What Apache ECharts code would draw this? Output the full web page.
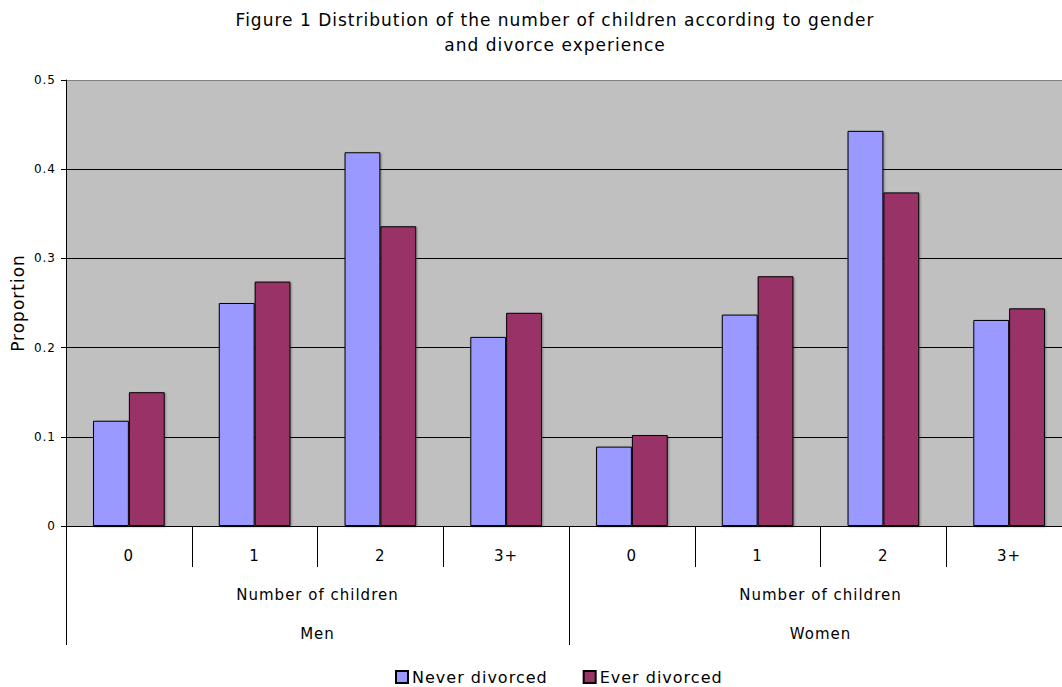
<!DOCTYPE html>
<html>
<head>
<meta charset="utf-8">
<script src="https://cdn.jsdelivr.net/npm/echarts@6/dist/echarts.min.js"></script>
<style>
  html, body { margin: 0; padding: 0; background: #fff; }
  #chart { width: 1062px; height: 687px; overflow: hidden; }
  /* open tracking for all chart text, Verdana-like */
  #chart svg text { letter-spacing: 1px; }
</style>
</head>
<body>
<div id="chart"></div>
<script>
// Number-of-children categories, repeated for each gender group
const childCategories = ['0', '1', '2', '3+', '0', '1', '2', '3+'];
const genderGroups = ['Men', 'Women'];
const subGroupLabels = ['Number of children', 'Number of children'];

// Proportions: Men (0,1,2,3+) followed by Women (0,1,2,3+)
const neverDivorced = [0.118, 0.250, 0.419, 0.212, 0.089, 0.237, 0.443, 0.231];
const everDivorced  = [0.150, 0.274, 0.336, 0.239, 0.102, 0.280, 0.374, 0.244];

const yTicks = { min: 0, max: 0.5, interval: 0.1 };

const FONT = '"DejaVu Sans", Verdana, sans-serif';
const chart = echarts.init(document.getElementById('chart'), null, { renderer: 'svg' });

chart.setOption({
  animation: false,
  backgroundColor: '#ffffff',
  textStyle: { fontFamily: FONT, color: '#000' },
  title: {
    text: 'Figure 1 Distribution of the number of children according to gender\nand divorce experience',
    left: 555,
    textAlign: 'center',
    top: 7,
    padding: 0,
    textStyle: { fontFamily: FONT, fontSize: 17, fontWeight: 'normal', color: '#000', lineHeight: 25 }
  },
  legend: {
    top: 669,
    left: 395,
    padding: 0,
    icon: 'rect',
    itemWidth: 12,
    itemHeight: 12,
    itemGap: 49,
    textStyle: { fontFamily: FONT, fontSize: 16, color: '#000', padding: [0, 0, 0, -1] },
    data: ['Never divorced', 'Ever divorced']
  },
  // plot area runs slightly past the right edge of the canvas
  grid: {
    left: 66, width: 1006, top: 80, bottom: 161,
    outerBoundsMode: 'none',
    containLabel: false,
    show: true,
    backgroundColor: '#c0c0c0',
    borderWidth: 0
  },
  xAxis: [
    {
      type: 'category',
      data: childCategories,
      position: 'bottom',
      axisLine: { show: true, lineStyle: { color: '#000', width: 1 } },
      axisTick: { show: true, length: 41, lineStyle: { color: '#000' } },
      axisLabel: { fontFamily: FONT, fontSize: 15, color: '#000', margin: 22 }
    },
    {
      type: 'category',
      data: genderGroups,
      position: 'bottom',
      axisLine: { show: false },
      axisTick: { show: true, length: 119, lineStyle: { color: '#000' } },
      axisLabel: { fontFamily: FONT, fontSize: 15, color: '#000', margin: 100 }
    },
    {
      type: 'category',
      data: subGroupLabels,
      position: 'bottom',
      axisLine: { show: false },
      axisTick: { show: false },
      axisLabel: { fontFamily: FONT, fontSize: 15, color: '#000', margin: 61 }
    }
  ],
  yAxis: {
    type: 'value',
    min: yTicks.min,
    max: yTicks.max,
    interval: yTicks.interval,
    name: 'Proportion',
    nameLocation: 'middle',
    nameRotate: 90,
    nameGap: 39,
    nameTextStyle: { fontFamily: FONT, fontSize: 17, color: '#000' },
    axisLine: { show: true, lineStyle: { color: '#000' } },
    axisTick: { show: true, length: 5, inside: false, lineStyle: { color: '#000' } },
    axisLabel: { fontFamily: FONT, fontSize: 12, color: '#000', margin: 10 },
    splitLine: {
      show: true,
      lineStyle: { color: ['#000', '#000', '#000', '#000', '#000', '#808080'], width: 1 }
    }
  },
  series: [
    {
      name: 'Never divorced',
      type: 'bar',
      xAxisIndex: 0,
      data: neverDivorced,
      barGap: '0%',
      barCategoryGap: '43%',
      itemStyle: {
        color: '#9999ff', borderColor: '#000', borderWidth: 1,
        shadowColor: 'rgba(0,0,0,0.35)', shadowBlur: 2, shadowOffsetX: 1, shadowOffsetY: 1
      }
    },
    {
      name: 'Ever divorced',
      type: 'bar',
      xAxisIndex: 0,
      data: everDivorced,
      barGap: '0%',
      barCategoryGap: '43%',
      itemStyle: {
        color: '#993366', borderColor: '#000', borderWidth: 1,
        shadowColor: 'rgba(0,0,0,0.35)', shadowBlur: 2, shadowOffsetX: 1, shadowOffsetY: 1
      }
    }
  ]
});
</script>
</body>
</html>
